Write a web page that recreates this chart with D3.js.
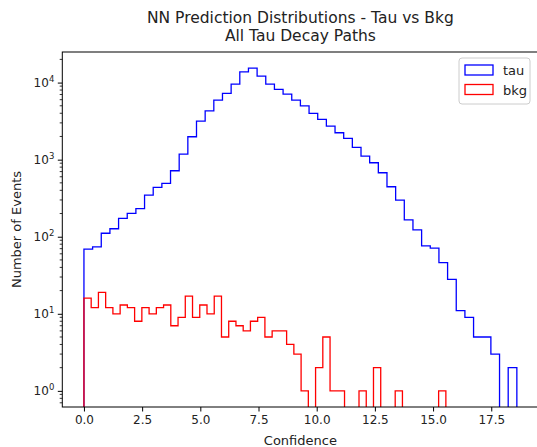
<!DOCTYPE html>
<html>
<head>
<meta charset="utf-8">
<script src="https://cdn.jsdelivr.net/npm/d3@7"></script>
<style>
  body { margin: 0; background: #fff; }
  svg { display: block; font-family: "DejaVu Sans", sans-serif; }
</style>
</head>
<body>
<div id="chart"></div>
<script>
// counts per bin (50 bins each)
const tauCounts = [69, 74, 111, 127, 173, 201, 231, 347, 437, 493,
  718, 1183, 1984, 3165, 4303, 5930, 7230, 9570, 13800, 15400,
  12100, 9570, 8170, 7100, 5930, 5000, 3985, 3333, 2730, 2235,
  1890, 1445, 1113, 912, 676, 445, 299, 165, 123, 76,
  71, 46, 28, 11, 9, 5, 5, 3, 0, 2];
const bkgCounts = [16, 12, 19, 12, 10, 13, 12, 8, 12, 10,
  12, 13, 7, 9, 17, 9, 13, 10, 17, 5,
  8, 7, 6, 8, 9, 5, 6, 6, 4, 3,
  1, 0, 2, 5, 1, 1, 0, 0, 1, 0,
  2, 0, 0, 1, 0, 0, 0, 0, 0, 1];
const tauRange = [0, 18.6];
const bkgRange = [0, 15.55];
const xTicks = [0, 2.5, 5, 7.5, 10, 12.5, 15, 17.5];
const yTicks = [1, 10, 100, 1000, 10000];
const seriesNames = ['tau', 'bkg'];
const seriesColors = ['#0000ff', '#ff0000'];

const width = 537;
const height = 447;
const plotLeft = 62.3, plotRight = 538.5, plotTop = 52, plotBottom = 407;

const svg = d3.select('#chart').append('svg')
  .attr('width', width)
  .attr('height', height);

// matplotlib-style 5% margins
const xMax = Math.max(tauRange[1], bkgRange[1]);
const x = d3.scaleLinear()
  .domain([-0.05 * xMax, xMax * 1.05])
  .range([plotLeft, plotRight]);

const lmax = Math.log10(d3.max(tauCounts));
const y = d3.scaleLog()
  .domain([Math.pow(10, -0.05 * lmax), Math.pow(10, lmax * 1.05)])
  .range([plotBottom, plotTop]);

svg.append('defs').append('clipPath').attr('id', 'plot-clip')
  .append('rect')
  .attr('x', plotLeft).attr('y', plotTop)
  .attr('width', plotRight - plotLeft).attr('height', plotBottom - plotTop);

function stepPoints(counts, range) {
  const w = (range[1] - range[0]) / counts.length;
  const pts = [[range[0], 1e-3]];
  counts.forEach((c, i) => {
    const v = c > 0 ? c : 1e-3;
    pts.push([range[0] + i * w, v]);
    pts.push([range[0] + (i + 1) * w, v]);
  });
  pts.push([range[1], 1e-3]);
  return pts;
}

const line = d3.line()
  .x((d) => x(d[0]))
  .y((d) => y(d[1]));

const plot = svg.append('g').attr('clip-path', 'url(#plot-clip)');
[[tauCounts, tauRange], [bkgCounts, bkgRange]].forEach(([counts, range], i) => {
  plot.append('path')
    .attr('d', line(stepPoints(counts, range)))
    .attr('fill', 'none')
    .attr('stroke', seriesColors[i])
    .attr('stroke-width', 1.3)
    .attr('stroke-linejoin', 'miter');
});

// x axis
const xAxis = svg.append('g')
  .attr('transform', `translate(0,${plotBottom})`)
  .call(d3.axisBottom(x).tickValues(xTicks).tickSize(4.5).tickPadding(4)
    .tickFormat(d3.format('.1f')));
xAxis.select('.domain').remove();
xAxis.selectAll('line').attr('stroke', '#000').attr('stroke-width', 1);
xAxis.selectAll('text').attr('font-size', 12).attr('fill', '#222')
  .attr('font-family', '"DejaVu Sans", sans-serif');

// y axis minor ticks
const minor = [];
for (let e = -1; e <= 4; e++) {
  for (let m = 2; m <= 9; m++) {
    const v = m * Math.pow(10, e);
    if (v >= y.domain()[0] && v <= y.domain()[1]) minor.push(v);
  }
}
svg.append('g').selectAll('line').data(minor).join('line')
  .attr('x1', plotLeft - 2.6).attr('x2', plotLeft)
  .attr('y1', (d) => y(d)).attr('y2', (d) => y(d))
  .attr('stroke', '#000').attr('stroke-width', 0.8);

const yAxis = svg.append('g')
  .attr('transform', `translate(${plotLeft},0)`)
  .call(d3.axisLeft(y).tickValues(yTicks).tickSize(4.5).tickPadding(3.5)
    .tickFormat(() => ''));
yAxis.select('.domain').remove();
yAxis.selectAll('line').attr('stroke', '#000').attr('stroke-width', 1);
yAxis.selectAll('.tick text')
  .attr('font-size', 12).attr('fill', '#222')
  .attr('font-family', '"DejaVu Sans", sans-serif')
  .each(function (d) {
    const t = d3.select(this);
    t.append('tspan').text('10');
    t.append('tspan').text(String(Math.round(Math.log10(d))))
      .attr('font-size', 8.5).attr('dy', -5);
  })
  .attr('dy', '0.32em');

// frame
svg.append('rect')
  .attr('x', plotLeft).attr('y', plotTop)
  .attr('width', plotRight - plotLeft).attr('height', plotBottom - plotTop)
  .attr('fill', 'none').attr('stroke', '#000').attr('stroke-width', 1);

// labels
svg.append('text')
  .attr('x', (plotLeft + plotRight) / 2).attr('y', 445)
  .attr('text-anchor', 'middle').attr('font-size', 13).attr('fill', '#222')
  .text('Confidence');
svg.append('text')
  .attr('transform', `translate(21,${(plotTop + plotBottom) / 2}) rotate(-90)`)
  .attr('text-anchor', 'middle').attr('font-size', 13).attr('fill', '#222')
  .text('Number of Events');

const title = svg.append('text')
  .attr('text-anchor', 'middle').attr('font-size', 15.5).attr('fill', '#222');
title.append('tspan').attr('x', (plotLeft + plotRight) / 2).attr('y', 23)
  .text('NN Prediction Distributions - Tau vs Bkg');
title.append('tspan').attr('x', (plotLeft + plotRight) / 2).attr('y', 41)
  .text('All Tau Decay Paths');

// legend
const legend = svg.append('g').attr('transform', 'translate(459,58)');
legend.append('rect')
  .attr('width', 71).attr('height', 46).attr('rx', 3)
  .attr('fill', '#fff').attr('fill-opacity', 0.8)
  .attr('stroke', '#cccccc').attr('stroke-width', 1);
seriesNames.forEach((name, i) => {
  const g = legend.append('g').attr('transform', `translate(6,${7 + i * 19.5})`);
  g.append('rect')
    .attr('width', 28).attr('height', 10)
    .attr('fill', 'none').attr('stroke', seriesColors[i]).attr('stroke-width', 1.3);
  g.append('text')
    .attr('x', 38).attr('y', 10)
    .attr('font-size', 13).attr('fill', '#222')
    .text(name);
});
</script>
</body>
</html>
